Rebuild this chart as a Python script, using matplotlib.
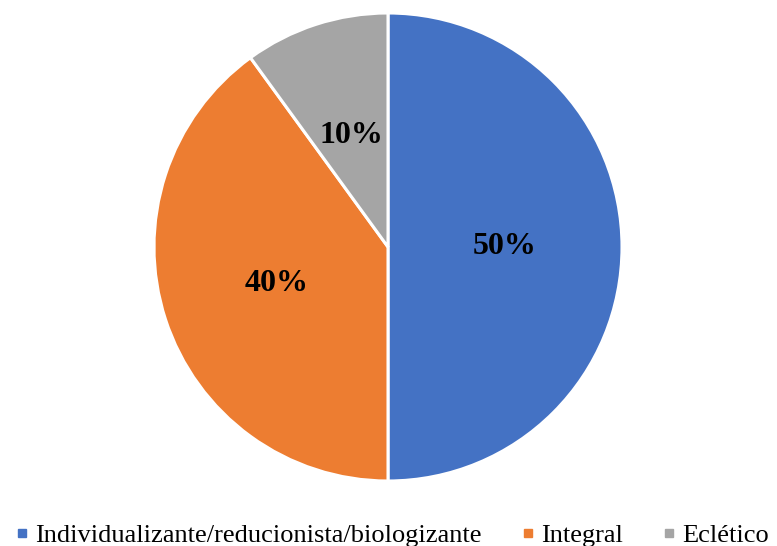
import matplotlib.pyplot as plt
from matplotlib.lines import Line2D

labels = ["Individualizante/reducionista/biologizante", "Integral", "Eclético"]
values = [50, 40, 10]
colors = ["#4472C4", "#ED7D31", "#A5A5A5"]

plt.rcParams['font.family'] = ['Liberation Serif', 'DejaVu Serif']

fig = plt.figure(figsize=(7.77, 5.46), dpi=100)
W, H = 777, 546
r = 234
cx, cy = 388, 247
ax = fig.add_axes([(cx - r) / W, (H - cy - r) / H, 2 * r / W, 2 * r / H])

wedges, texts, autotexts = ax.pie(
    values, colors=colors, startangle=90, counterclock=False,
    autopct='%1.0f%%', pctdistance=0.5, radius=1,
    wedgeprops=dict(edgecolor='white', linewidth=2.2),
    textprops=dict(fontsize=23, fontweight='bold', color='black'))
ax.set_xlim(-1, 1)
ax.set_ylim(-1, 1)
ax.set_aspect('auto')

handles = [Line2D([0], [0], marker='s', linestyle='none', markersize=6,
                  markerfacecolor=c, markeredgecolor=c) for c in colors]
fig.legend(handles, labels, loc='lower center', ncol=3, frameon=False,
           bbox_to_anchor=(0.505, -0.045), fontsize=19, handlelength=0.5,
           handletextpad=0.25, columnspacing=1.5)

fig.savefig("out.png", dpi=100)
